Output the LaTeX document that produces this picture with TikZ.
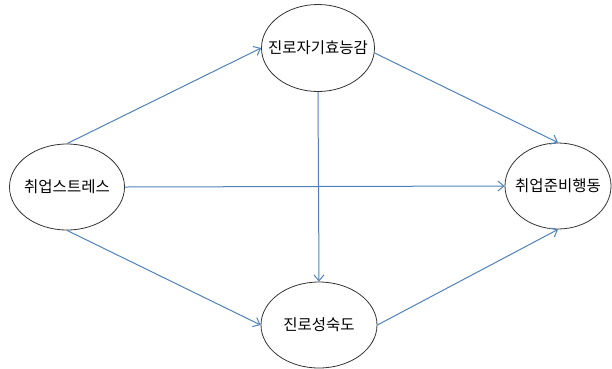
\documentclass[tikz,border=0pt]{standalone}
\usepackage{fontspec}
\setmainfont{Noto Sans CJK KR}
\usetikzlibrary{shapes.geometric,arrows.meta}
\definecolor{linkblue}{RGB}{79,129,189}
\newcommand{\mylbl}[1]{\makebox[0pt]{#1}}
\tikzset{
  var/.style={ellipse,draw=black!80,line width=0.8pt,inner sep=0pt,font=\fontsize{15.5pt}{17pt}\selectfont},
  link/.style={draw=linkblue,line width=1pt,-{Straight Barb[length=6pt,width=10pt]}}
}
\begin{document}
\begin{tikzpicture}[x=1pt,y=-1pt]
\useasboundingbox (0,0) rectangle (612,368);
\node[var,minimum width=115pt,minimum height=86pt] (L) at (67,187) {\mylbl{취업스트레스}};
\node[var,minimum width=113pt,minimum height=87pt] (T) at (318,48) {\mylbl{진로자기효능감}};
\node[var,minimum width=106pt,minimum height=86pt] (R) at (558,186) {\mylbl{취업준비행동}};
\node[var,minimum width=116pt,minimum height=86pt] (B) at (319,325) {\mylbl{진로성숙도}};
\draw[link] (L.north) -- (T.west);
\draw[link] (L.east) -- (R.west);
\draw[link] (L.south) -- (B.west);
\draw[link] (T.south) -- (B.north);
\draw[link] (T.-5) -- (R.north);
\draw[link] (B.east) -- (R.south);
\end{tikzpicture}
\end{document}
